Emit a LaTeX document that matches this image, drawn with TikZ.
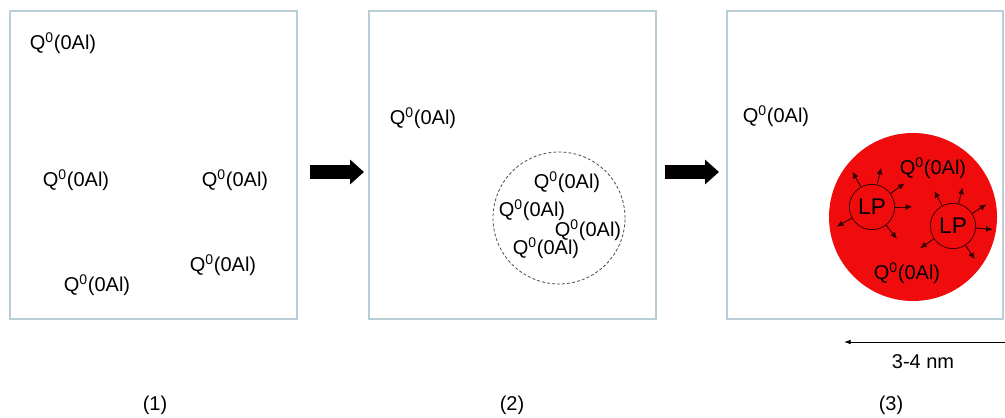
\documentclass[tikz,border=0pt]{standalone}
\usepackage{fontspec}
\setmainfont{Liberation Sans}
\usetikzlibrary{arrows.meta}
\definecolor{panelc}{RGB}{185,205,215}
\definecolor{blobred}{RGB}{240,12,12}
\begin{document}
\begin{tikzpicture}[x=0.75pt,y=-0.75pt,
  font=\fontsize{15}{18}\selectfont,
  panel/.style={draw=panelc, line width=1pt, inner sep=0pt, minimum height=231pt},
  q/.style={inner sep=0pt},
  lp/.style={circle, draw=black!75!red, line width=0.6pt, inner sep=0pt, minimum size=34pt, font=\fontsize{17}{20}\selectfont},
  lparrow/.style={draw=black!80!red, line width=0.7pt, -{Latex[length=5pt,width=4.5pt]}},
  bigarrow/.style={line width=10.5pt, -{Triangle[length=10.5pt,width=18pt]}},
  cluster/.style={circle, draw=black!70, line width=0.6pt, dash pattern=on 2.2pt off 1.6pt, inner sep=0pt, minimum size=99pt},
  blob/.style={circle, fill=blobred, inner sep=0pt, minimum size=126pt},
  lab/.style={inner sep=0pt}
]
\useasboundingbox (0,0) rectangle (1005,417);
\fill[white] (0,0) rectangle (1005,417);
\newcommand{\qz}{Q\textsuperscript{0}(0Al)}
% panels
\node[panel, minimum width=215.25pt] (p1) at (153.5,165) {};
\node[panel, minimum width=215.25pt] (p2) at (512.5,165) {};
\node[panel, minimum width=207pt] (p3) at (865,165) {};
% panel 1 texts
\node[q] (a1) at (63,43) {\qz};
\node[q] (a2) at (76,180) {\qz};
\node[q] (a3) at (235,180) {\qz};
\node[q] (a4) at (223,265) {\qz};
\node[q] (a5) at (97,285) {\qz};
% big arrows
\coordinate (s1) at (310,172);
\coordinate (e1) at (364,172);
\coordinate (s2) at (665,172);
\coordinate (e2) at (719,172);
\draw[bigarrow] (s1) -- (e1);
\draw[bigarrow] (s2) -- (e2);
% panel 2
\node[q] (b1) at (423,118) {\qz};
\node[cluster] (cl) at (559,218) {};
\node[q] (b2) at (567,182) {\qz};
\node[q] (b3) at (532,210) {\qz};
\node[q] (b4) at (588,230) {\qz};
\node[q] (b5) at (546,248) {\qz};
% panel 3
\node[q] (c1) at (776,116) {\qz};
\node[blob] (rc) at (913,217) {};
\node[q] (c2) at (933,168) {\qz};
\node[q] (c3) at (907,273) {\qz};
\node[lp] (lp1) at (872,207) {LP};
\node[lp] (lp2) at (953,226) {LP};
\foreach \a in {119,77,36,0,-52,-151}
  \draw[lparrow] (lp1.\a) -- ++(\a:13pt);
\foreach \a in {118,76,33,-5,-57,-146}
  \draw[lparrow] (lp2.\a) -- ++(\a:12.5pt);
% scale bar
\coordinate (sr) at (1005,342);
\coordinate (sl) at (844,342);
\draw[line width=0.6pt, -{Latex[length=5pt,width=3.5pt]}] (sr) -- (sl);
\node[lab] (nm) at (923,362) {3-4 nm};
% labels
\node[lab] (l1) at (155,405) {(1)};
\node[lab] (l2) at (512,405) {(2)};
\node[lab] (l3) at (891,405) {(3)};
\end{tikzpicture}
\end{document}
